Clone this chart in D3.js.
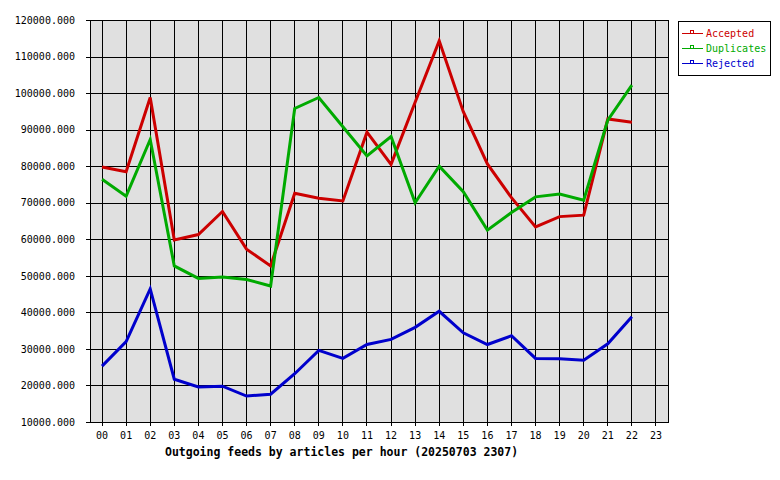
<!DOCTYPE html>
<html>
<head>
<meta charset="utf-8">
<script src="https://cdn.jsdelivr.net/npm/d3@7"></script>
<style>
  body { margin: 0; background: #fff; }
  text { font-family: "DejaVu Sans Mono", monospace; }
</style>
</head>
<body>
<div id="chart"></div>
<script>
// hours on the x axis
const hours = d3.range(24).map(h => (h < 10 ? "0" : "") + h);

// articles per hour, hours 00..22 (23 has no data yet)
const accepted = [79800, 78500, 98800, 59800, 61300, 67600, 57300, 52700, 72600, 71200, 70500, 89300,
                  80500, 97500, 114300, 94900, 80600, 71400, 63400, 66200, 66600, 92900, 92000];
const duplicates = [76400, 71800, 87300, 52700, 49300, 49700, 49000, 47200, 95800, 98800, 90800, 82800,
                    88100, 70000, 80000, 73000, 62500, 67300, 71600, 72400, 70700, 92600, 102200];
const rejected = [25300, 32000, 46400, 21700, 19600, 19800, 17100, 17600, 23200, 29600, 27400, 31200,
                  32600, 35900, 40300, 34400, 31200, 33600, 27400, 27300, 26900, 31400, 38800];

const yTicks = d3.range(10000, 120001, 10000);
const seriesNames = ["Accepted", "Duplicates", "Rejected"];
const seriesColors = ["#cc0000", "#00aa00", "#0000cc"];
const titleText = "Outgoing feeds by articles per hour (20250703 2307)";

const series = [accepted, duplicates, rejected];

const svg = d3.select("#chart").append("svg")
    .attr("width", 780)
    .attr("height", 480);

const plotLeft = 90, plotRight = 668, plotTop = 20, plotBottom = 422;

const x = d3.scaleBand()
    .domain(hours)
    .range([plotLeft, plotRight]);

const y = d3.scaleLinear()
    .domain([10000, 120000])
    .range([plotBottom, plotTop]);

// plot background
svg.append("rect")
    .attr("x", plotLeft).attr("y", plotTop)
    .attr("width", plotRight - plotLeft).attr("height", plotBottom - plotTop)
    .attr("fill", "#e0e0e0");

// y axis with full width grid
const yAxis = svg.append("g")
    .attr("transform", "translate(" + plotLeft + ",0)")
    .call(d3.axisLeft(y)
        .tickValues(yTicks)
        .tickSizeOuter(0)
        .tickPadding(9)
        .tickFormat(d => d3.format(".3f")(d)));
yAxis.select(".domain").remove();
yAxis.selectAll("line")
    .attr("x1", -4)
    .attr("x2", plotRight - plotLeft)
    .attr("stroke", "#000")
    .attr("shape-rendering", "crispEdges");
yAxis.selectAll("text")
    .attr("font-size", 10)
    .attr("fill", "#000");

// x axis with full height grid
const xAxis = svg.append("g")
    .attr("transform", "translate(0," + plotBottom + ")")
    .call(d3.axisBottom(x)
        .tickSizeInner(4)
        .tickSizeOuter(0)
        .tickPadding(6));
xAxis.select(".domain").remove();
xAxis.selectAll("line")
    .attr("y1", -(plotBottom - plotTop))
    .attr("y2", 4)
    .attr("stroke", "#000")
    .attr("shape-rendering", "crispEdges");
xAxis.selectAll("text")
    .attr("font-size", 10)
    .attr("fill", "#000");

// frame
svg.append("rect")
    .attr("x", plotLeft).attr("y", plotTop)
    .attr("width", plotRight - plotLeft).attr("height", plotBottom - plotTop)
    .attr("fill", "none")
    .attr("stroke", "#000")
    .attr("shape-rendering", "crispEdges");

// data lines
const line = d3.line()
    .x((d, i) => x(hours[i]) + x.bandwidth() / 2)
    .y(d => y(d));

series.forEach(function(s, k) {
    svg.append("path")
        .datum(s)
        .attr("d", line)
        .attr("fill", "none")
        .attr("stroke", seriesColors[k])
        .attr("stroke-width", 3)
        .attr("stroke-linejoin", "miter");
});

// title
svg.append("text")
    .attr("x", 165)
    .attr("y", 456)
    .attr("font-size", 11.5)
    .attr("font-weight", "bold")
    .text(titleText);

// legend
const legend = svg.append("g");
legend.append("rect")
    .attr("x", 678.5).attr("y", 21.5)
    .attr("width", 92).attr("height", 54)
    .attr("fill", "#fff")
    .attr("stroke", "#000");

seriesNames.forEach(function(name, k) {
    const ly = 33 + k * 15;
    legend.append("line")
        .attr("x1", 682).attr("x2", 703)
        .attr("y1", ly).attr("y2", ly)
        .attr("stroke", seriesColors[k])
        .attr("shape-rendering", "crispEdges");
    legend.append("rect")
        .attr("x", 690.5).attr("y", ly - 2.5)
        .attr("width", 3).attr("height", 3)
        .attr("fill", "none")
        .attr("stroke", seriesColors[k]);
    legend.append("text")
        .attr("x", 706)
        .attr("y", ly + 4)
        .attr("font-size", 10)
        .attr("fill", seriesColors[k])
        .text(name);
});
</script>
</body>
</html>
